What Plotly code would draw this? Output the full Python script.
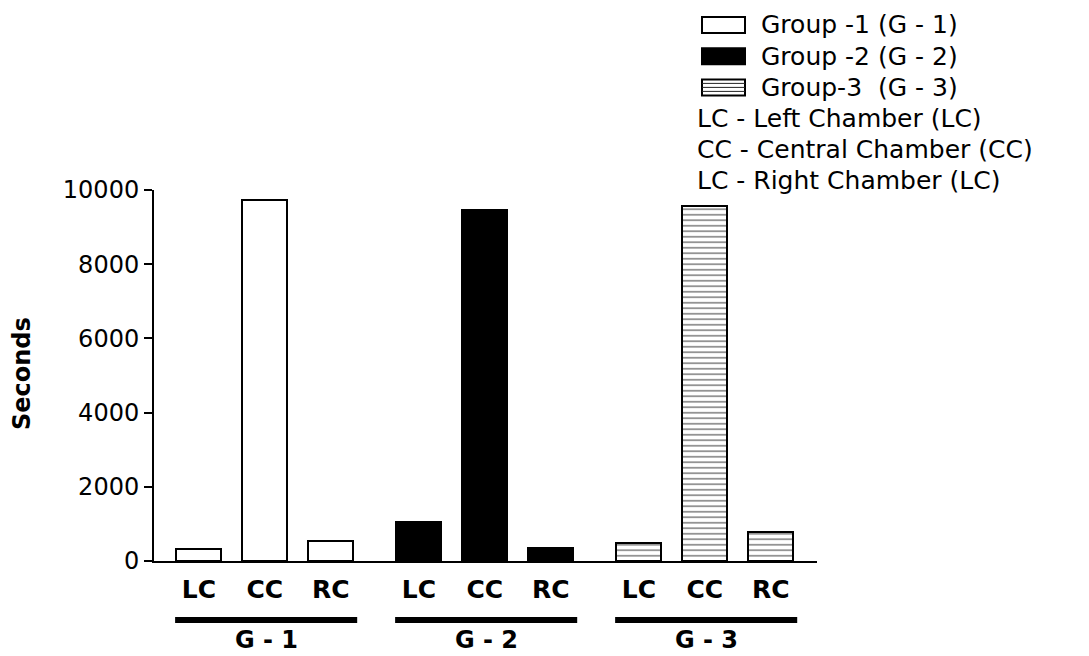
import plotly.graph_objects as go

# Time spent in each chamber (seconds) per group
groups = ["G - 1", "G - 2", "G - 3"]
chambers = ["LC", "CC", "RC"]
g1_seconds = [320, 9740, 540]
g2_seconds = [1060, 9460, 340]
g3_seconds = [490, 9570, 780]

legend_groups = ["Group -1 (G - 1)", "Group -2 (G - 2)", "Group-3\u00a0 (G - 3)"]
legend_notes = ["LC - Left Chamber (LC)", "CC - Central Chamber (CC)", "LC - Right Chamber (LC)"]

y_ticks = [0, 2000, 4000, 6000, 8000, 10000]

# layout constants
FONT = "DejaVu Sans"
GROUP_GAP = 0.335
BAR_W = 0.68
X_RANGE = [-0.68, 9.37]
W, H = 1089, 656
L, R, T, B = 154, 272, 190, 95

def xpos(g):
    return [g * (len(chambers) + GROUP_GAP) + j for j in range(len(chambers))]

fig = go.Figure()

series = [g1_seconds, g2_seconds, g3_seconds]
styles = [
    dict(color="white"),
    dict(color="black"),
    dict(color="white", pattern=dict(shape="-", size=5.5, solidity=0.3,
                                     fgcolor="#111111", bgcolor="white", fillmode="overlay")),
]
for g, (vals, st) in enumerate(zip(series, styles)):
    fig.add_trace(go.Bar(
        x=xpos(g), y=vals, width=BAR_W, name=groups[g],
        marker=dict(line=dict(color="black", width=2), **st),
        showlegend=False,
    ))

all_x = [x for g in range(len(groups)) for x in xpos(g)]
all_labels = chambers * len(groups)

fig.update_xaxes(
    range=X_RANGE, tickvals=all_x, ticktext=all_labels,
    showline=True, linecolor="black", linewidth=2, ticks="",
    tickfont=dict(family=FONT, size=25, color="black", weight="bold"),
    showgrid=False, zeroline=False, ticklabelstandoff=5,
)
fig.update_yaxes(
    range=[0, 10000], tickvals=y_ticks, tickformat="d",
    showline=True, linecolor="black", linewidth=2,
    ticks="outside", ticklen=8, tickwidth=2, tickcolor="black",
    tickfont=dict(family=FONT, size=24, color="black"),
    showgrid=False, zeroline=False, ticklabelstandoff=0,
)

pw = W - L - R
ph = H - T - B

def px_x(p):  # pixel -> paper x
    return (p - L) / pw

def px_y(p):  # pixel -> paper y
    return (H - B - p) / ph

def data_to_paper(x):
    return (x - X_RANGE[0]) / (X_RANGE[1] - X_RANGE[0])

shapes = []
annotations = []

# group brackets and labels below the chamber labels
for g, name in enumerate(groups):
    xs = xpos(g)
    x0 = data_to_paper(xs[0] - BAR_W / 2 - 0.02)
    x1 = data_to_paper(xs[-1] + BAR_W / 2 + 0.06)
    shapes.append(dict(type="line", xref="paper", yref="paper",
                       x0=x0, x1=x1, y0=px_y(620), y1=px_y(620),
                       line=dict(color="black", width=6)))
    annotations.append(dict(xref="paper", yref="paper", x=data_to_paper(xs[1] + 0.02),
                            y=px_y(640), text=name, showarrow=False,
                            xanchor="center", yanchor="middle", borderpad=0,
                            font=dict(family=FONT, size=24, color="black", weight="bold")))

# y-axis title
annotations.append(dict(xref="paper", yref="paper", x=px_x(22), y=px_y(374),
                        text="Seconds", textangle=-90, showarrow=False,
                        xanchor="center", yanchor="middle",
                        font=dict(family=FONT, size=24, color="black", weight="bold")))

# key in the upper right
row_y = [25 + 31.2 * i for i in range(6)]
box_x0, box_x1 = 702, 745
for i, label in enumerate(legend_groups):
    yc = row_y[i]
    fill = "black" if i == 1 else "white"
    shapes.append(dict(type="rect", xref="paper", yref="paper",
                       x0=px_x(box_x0), x1=px_x(box_x1),
                       y0=px_y(yc - 8), y1=px_y(yc + 8),
                       fillcolor=fill, line=dict(color="black", width=2)))
    if i == 2:
        for k in range(1, 4):
            yy = yc - 8 + 4 * k
            shapes.append(dict(type="line", xref="paper", yref="paper",
                               x0=px_x(box_x0), x1=px_x(box_x1),
                               y0=px_y(yy), y1=px_y(yy),
                               line=dict(color="#222222", width=1)))
    annotations.append(dict(xref="paper", yref="paper", x=px_x(759), y=px_y(yc),
                            text=label, showarrow=False, xanchor="left", yanchor="middle",
                            font=dict(family=FONT, size=25, color="black")))
for i, label in enumerate(legend_notes):
    yc = row_y[3 + i]
    annotations.append(dict(xref="paper", yref="paper", x=px_x(695), y=px_y(yc),
                            text=label, showarrow=False, xanchor="left", yanchor="middle",
                            font=dict(family=FONT, size=25, color="black")))

fig.update_layout(
    width=W, height=H,
    margin=dict(l=L, r=R, t=T, b=B, pad=0),
    plot_bgcolor="white", paper_bgcolor="white",
    bargap=0, shapes=shapes, annotations=annotations,
    font=dict(family=FONT, color="black"),
)

fig.write_html("out.html")
